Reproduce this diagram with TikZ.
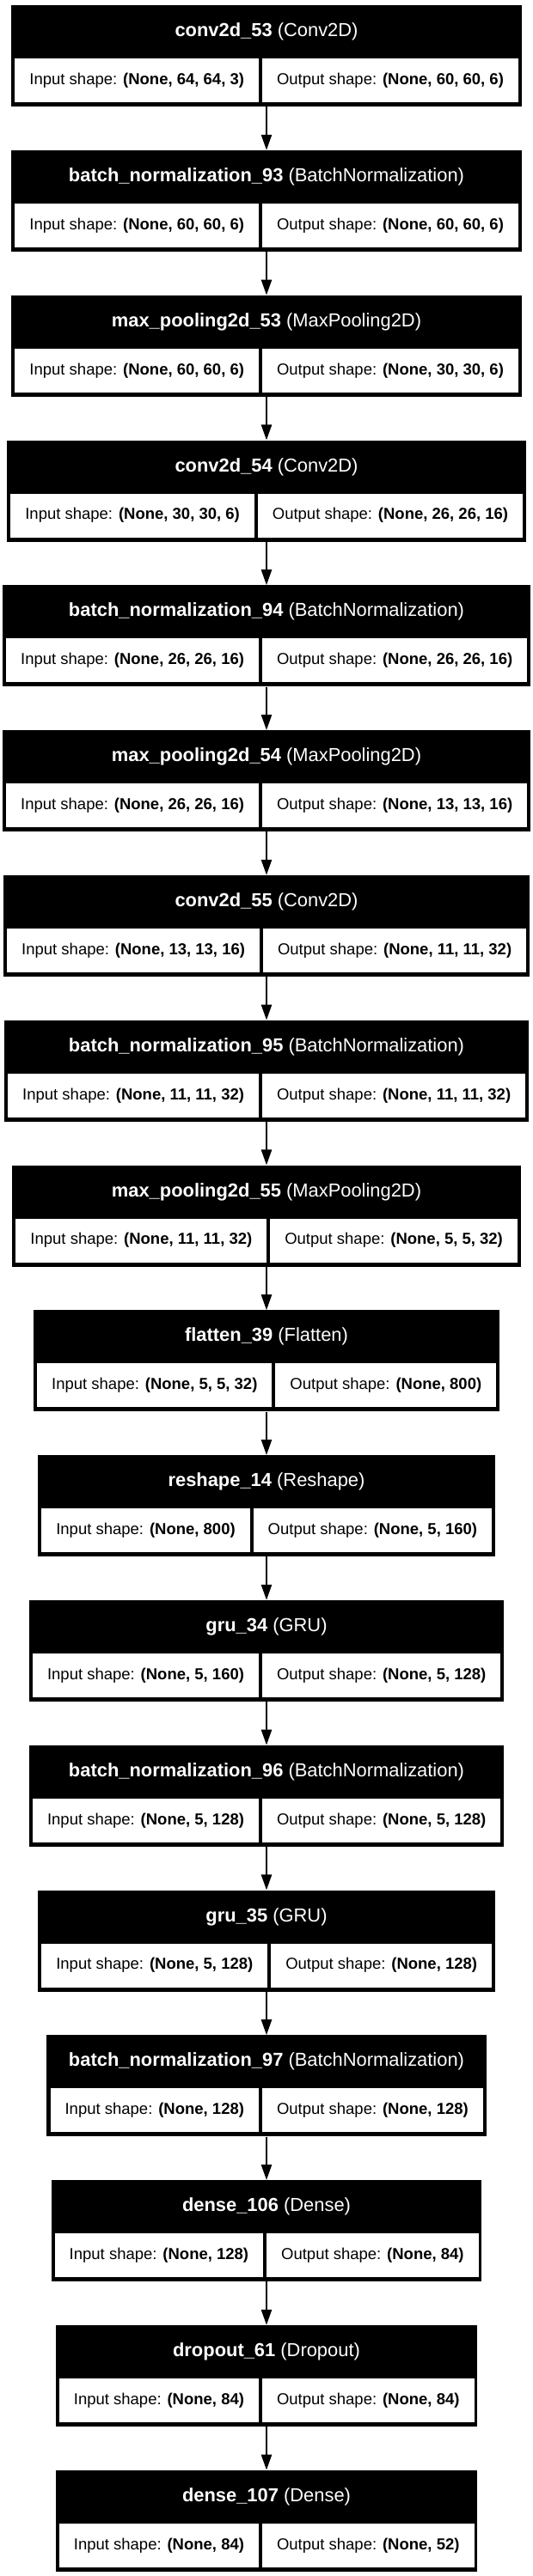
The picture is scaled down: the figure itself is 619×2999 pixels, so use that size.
\documentclass[tikz,border=0pt]{standalone}
\usepackage{fontspec}
\setmainfont{Liberation Sans}
\usetikzlibrary{arrows.meta}
\newlength\cellwa
\newlength\cellwb
\newbox\measbox
\newcommand\rowfont{\fontsize{18.5}{22}\selectfont}
\newcommand\headfont{\fontsize{21.9}{26}\selectfont}
\newcommand\layer[6]{%
  \pgfinterruptpicture
    \global\setbox\measbox=\hbox{\normalfont\rowfont Input shape: \textbf{#5}}%
  \endpgfinterruptpicture
  \cellwa=\wd\measbox
  \pgfinterruptpicture
    \global\setbox\measbox=\hbox{\normalfont\rowfont Output shape: \textbf{#6}}%
  \endpgfinterruptpicture
  \cellwb=\wd\measbox
  \pgfmathsetmacro\ca{\cellwa+34}%
  \pgfmathsetmacro\cb{\cellwb+34}%
  \pgfmathsetmacro\W{\ca+\cb+12}%
  \pgfmathsetmacro\L{310-\W/2}%
  \pgfmathsetmacro\T{6+168.8*#2}%
  \node[blockbox, minimum width=\W pt, anchor=north] (#1) at (310,\T) {};
  \node[headtext] (#1h) at (310,\T+31) {\textbf{#3} #4};
  \node[cellbox, minimum width=\ca pt, anchor=north west] (#1in) at (\L+4,\T+62) {Input shape: \textbf{#5}};
  \node[cellbox, minimum width=\cb pt, anchor=north west] (#1out) at (\L+8+\ca,\T+62) {Output shape: \textbf{#6}};
}
\tikzset{
  blockbox/.style={fill=black, draw=none, inner sep=0pt, minimum height=118pt},
  headtext/.style={text=white, font=\headfont, inner sep=0pt},
  cellbox/.style={fill=white, draw=none, inner sep=0pt, minimum height=51pt, font=\rowfont, text=black},
  arr/.style={line width=2.4pt, -{Triangle[length=18pt, width=12pt]}}
}
\begin{document}
\begin{tikzpicture}[x=1pt, y=-1pt]
\fill[white] (0,0) rectangle (619,2999);
\useasboundingbox (0,0) rectangle (619,2999);
\layer{l0}{0}{conv2d\_53}{(Conv2D)}{(None, 64, 64, 3)}{(None, 60, 60, 6)}
\layer{l1}{1}{batch\_normalization\_93}{(BatchNormalization)}{(None, 60, 60, 6)}{(None, 60, 60, 6)}
\layer{l2}{2}{max\_pooling2d\_53}{(MaxPooling2D)}{(None, 60, 60, 6)}{(None, 30, 30, 6)}
\layer{l3}{3}{conv2d\_54}{(Conv2D)}{(None, 30, 30, 6)}{(None, 26, 26, 16)}
\layer{l4}{4}{batch\_normalization\_94}{(BatchNormalization)}{(None, 26, 26, 16)}{(None, 26, 26, 16)}
\layer{l5}{5}{max\_pooling2d\_54}{(MaxPooling2D)}{(None, 26, 26, 16)}{(None, 13, 13, 16)}
\layer{l6}{6}{conv2d\_55}{(Conv2D)}{(None, 13, 13, 16)}{(None, 11, 11, 32)}
\layer{l7}{7}{batch\_normalization\_95}{(BatchNormalization)}{(None, 11, 11, 32)}{(None, 11, 11, 32)}
\layer{l8}{8}{max\_pooling2d\_55}{(MaxPooling2D)}{(None, 11, 11, 32)}{(None, 5, 5, 32)}
\layer{l9}{9}{flatten\_39}{(Flatten)}{(None, 5, 5, 32)}{(None, 800)}
\layer{l10}{10}{reshape\_14}{(Reshape)}{(None, 800)}{(None, 5, 160)}
\layer{l11}{11}{gru\_34}{(GRU)}{(None, 5, 160)}{(None, 5, 128)}
\layer{l12}{12}{batch\_normalization\_96}{(BatchNormalization)}{(None, 5, 128)}{(None, 5, 128)}
\layer{l13}{13}{gru\_35}{(GRU)}{(None, 5, 128)}{(None, 128)}
\layer{l14}{14}{batch\_normalization\_97}{(BatchNormalization)}{(None, 128)}{(None, 128)}
\layer{l15}{15}{dense\_106}{(Dense)}{(None, 128)}{(None, 84)}
\layer{l16}{16}{dropout\_61}{(Dropout)}{(None, 84)}{(None, 84)}
\layer{l17}{17}{dense\_107}{(Dense)}{(None, 84)}{(None, 52)}
\foreach \a/\b in {l0/l1,l1/l2,l2/l3,l3/l4,l4/l5,l5/l6,l6/l7,l7/l8,l8/l9,l9/l10,l10/l11,l11/l12,l12/l13,l13/l14,l14/l15,l15/l16,l16/l17}
  \draw[arr] (\a.south) -- (\b.north);
\end{tikzpicture}
\end{document}
